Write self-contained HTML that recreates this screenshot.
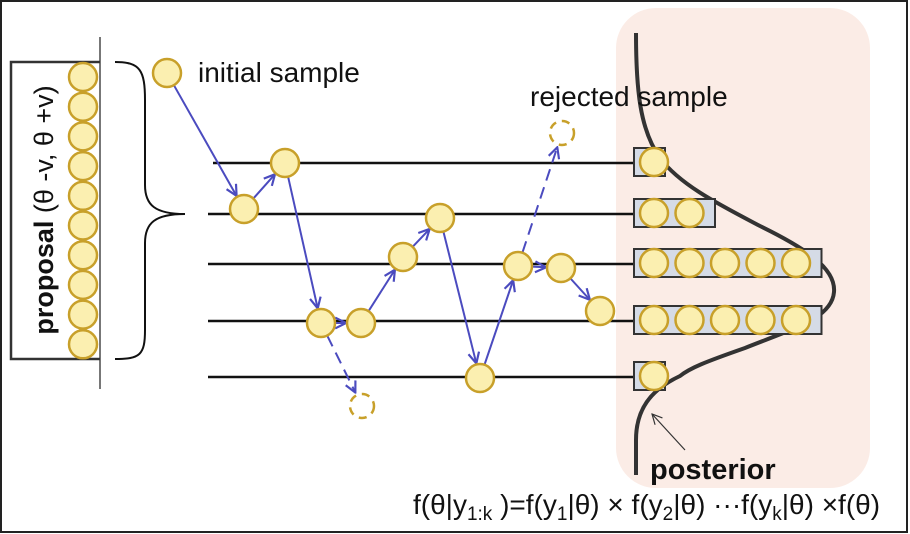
<!DOCTYPE html>
<html><head><meta charset="utf-8"><style>
html,body{margin:0;padding:0;background:#fff}
svg{display:block;font-family:"Liberation Sans",sans-serif}
</style></head><body>
<svg id="s" width="910" height="534" viewBox="0 0 910 534">
<defs>
<marker id="ah" viewBox="0 0 12 12" refX="11" refY="6" markerWidth="13" markerHeight="13" markerUnits="userSpaceOnUse" orient="auto">
<path d="M1,1 L11,6 L1,11" fill="none" stroke="#4b4bbf" stroke-width="2"/></marker>
<marker id="ak" viewBox="0 0 12 12" refX="11" refY="6" markerWidth="12" markerHeight="12" markerUnits="userSpaceOnUse" orient="auto">
<path d="M1,1 L11,6 L1,11" fill="none" stroke="#333" stroke-width="1.2"/></marker>
</defs>
<rect x="1" y="1" width="906" height="531" fill="#fff" stroke="#222" stroke-width="2"/>
<rect x="616" y="8" width="254" height="480" rx="40" fill="#fbece6"/>
<line x1="100" y1="37" x2="100" y2="389" stroke="#777" stroke-width="2"/>
<path d="M100,62 H11 V359 H100" fill="none" stroke="#333" stroke-width="2.5"/>
<text transform="translate(53,210) rotate(-90)" text-anchor="middle" font-size="27" fill="#111"><tspan font-weight="bold">proposal</tspan> (θ -v, θ +v)</text>
<path d="M115,62 C140,62 145,70 145,100 V185 C145,205 155,214 185,214 C155,214 145,223 145,243 V330 C145,355 140,359 115,359" fill="none" stroke="#111" stroke-width="2"/>
<g id="lines"></g><g id="arrows"></g>
<path d="M636,33 C636,90 640,130 660,158 C680,185 720,205 760,226 C805,248 836,268 834,292 C832,318 795,328 745,348 C705,362 690,368 680,376 C650,390 636,410 636,440 L636,475" fill="none" stroke="#333" stroke-width="4"/>
<g id="bars"></g><g id="circles"></g>
<line x1="685" y1="450" x2="652" y2="414" stroke="#333" stroke-width="1.2" marker-end="url(#ak)"/>
<text x="198" y="82" font-size="28" fill="#111">initial sample</text>
<text x="530" y="106" font-size="28" fill="#111">rejected sample</text>
<text x="650" y="479" font-size="29" font-weight="bold" fill="#111">posterior</text>
<text x="413" y="514" font-size="28" fill="#111">f(θ|y<tspan font-size="19" dy="6">1:k</tspan><tspan dy="-6"> )=f(y</tspan><tspan font-size="19" dy="6">1</tspan><tspan dy="-6">|θ) × f(y</tspan><tspan font-size="19" dy="6">2</tspan><tspan dy="-6">|θ) ···f(y</tspan><tspan font-size="19" dy="6">k</tspan><tspan dy="-6">|θ) ×f(θ)</tspan></text>
</svg>
<script>
const rowY=[163,214,264,321,377];
const rowCounts=[1,2,5,5,1];
const samples=[[167,73],[244,209],[285,163],[321,323],[361,323],[403,257],[440,218],[480,378],[518,266],[561,268],[600,311]];
const rejected=[[362,406],[562,133]];
const moves=[[0,1],[1,2],[2,3],[3,4],[4,5],[5,6],[6,7],[7,8],[8,9],[9,10]];
const rejMoves=[[3,0],[8,1]];
const NS='http://www.w3.org/2000/svg';
function mk(t,a,p){const e=document.createElementNS(NS,t);for(const k in a)e.setAttribute(k,a[k]);document.getElementById(p).appendChild(e);return e;}
const R=14,CF='#fbefb0',CS='#c8a02a';
rowY.forEach((y,i)=>{
 const l=mk('line',{x1:i==0?213:208,y1:y,x2:640,y2:y,stroke:'#111','stroke-width':2.5},'lines');
 
 
 const n=rowCounts[i];
 const w=n==1?31:n*35.5+10;
 const b=mk('rect',{x:634,y:y-15,width:w,height:28,fill:'#d5dbe6',stroke:'#333','stroke-width':2},'bars');
 
 
 for(let k=0;k<n;k++){
  const c=mk('circle',{cx:654+k*35.5,cy:y-1,r:R,fill:CF,stroke:CS,'stroke-width':2.5},'circles');
  
  
 }
});
for(let k=0;k<10;k++){
 const c=mk('circle',{cx:83,cy:77+k*29.7,r:R,fill:CF,stroke:CS,'stroke-width':2.5},'circles');
 
 
}
function arrow(p,q,dash){
 const dx=q[0]-p[0],dy=q[1]-p[1],d=Math.hypot(dx,dy),ux=dx/d,uy=dy/d;
 const a=mk('line',{x1:p[0]+ux*R,y1:p[1]+uy*R,x2:q[0]-ux*(R+1),y2:q[1]-uy*(R+1),stroke:'#4b4bbf','stroke-width':2,'marker-end':'url(#ah)'},'arrows');
 if(dash)a.setAttribute('stroke-dasharray','12 7');
 
 
}
moves.forEach(m=>arrow(samples[m[0]],samples[m[1]],false));
rejMoves.forEach(m=>arrow(samples[m[0]],rejected[m[1]],true));
samples.forEach((s,i)=>{
 const c=mk('circle',{cx:s[0],cy:s[1],r:R,fill:CF,stroke:CS,'stroke-width':2.5},'circles');
 
 
});
rejected.forEach(s=>{
 const c=mk('circle',{cx:s[0],cy:s[1],r:12,fill:'none',stroke:CS,'stroke-width':2.5,'stroke-dasharray':'8 6'},'circles');
 
 
});
</script>
</body></html>
